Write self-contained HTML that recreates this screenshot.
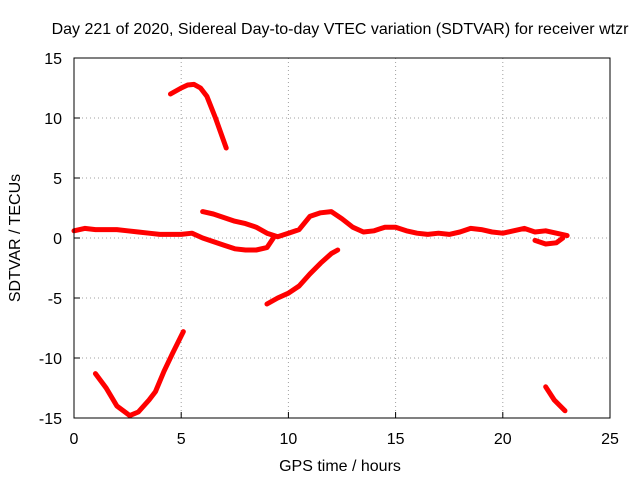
<!DOCTYPE html>
<html><head><meta charset="utf-8"><style>
body{margin:0;background:#fff}
svg text{font-family:"Liberation Sans",sans-serif;font-size:16px;fill:#000}
</style></head><body>
<svg id="chart" width="640" height="480" viewBox="0 0 640 480" xmlns="http://www.w3.org/2000/svg">
<rect width="640" height="480" fill="#fff"/>
<text x="340" y="34" text-anchor="middle">Day 221 of 2020, Sidereal Day-to-day VTEC variation (SDTVAR) for receiver wtzr</text>
<g id="grid"></g>
<g id="series"></g>
<rect x="74" y="58" width="536" height="360" fill="none" stroke="#000" stroke-width="1"/>
<g id="ticks"></g>
<text x="340" y="471" text-anchor="middle">GPS time / hours</text>
<text transform="translate(20,238) rotate(-90)" text-anchor="middle">SDTVAR / TECUs</text>
</svg>
<script>
const xTicks=[0,5,10,15,20,25];
const yTicks=[-15,-10,-5,0,5,10,15];
const segMainA=[[0,0.6],[0.5,0.8],[1,0.7],[2,0.7],[2.5,0.6],[3,0.5],[3.5,0.4],[4,0.3],[5,0.3],[5.5,0.4],[6,0.0],[6.5,-0.3],[7,-0.6],[7.5,-0.9],[8,-1.0],[8.5,-1.0],[9,-0.8],[9.3,0]];
const segMainB=[[6,2.2],[6.5,2.0],[7,1.7],[7.5,1.4],[8,1.2],[8.5,0.9],[9,0.4],[9.5,0.1],[10,0.4],[10.5,0.7],[11,1.8],[11.5,2.1],[12,2.2],[12.5,1.6],[13,0.9],[13.5,0.5],[14,0.6],[14.5,0.9],[15,0.9],[15.5,0.6],[16,0.4],[16.5,0.3],[17,0.4],[17.5,0.3],[18,0.5],[18.5,0.8],[19,0.7],[19.5,0.5],[20,0.4],[20.5,0.6],[21,0.8],[21.5,0.5],[22,0.6],[22.5,0.4],[23,0.2]];
const segDip=[[21.5,-0.2],[22,-0.5],[22.5,-0.4],[22.8,0]];
const segHigh=[[4.5,12.0],[5,12.5],[5.3,12.75],[5.6,12.8],[5.9,12.5],[6.2,11.8],[6.6,10.0],[7.1,7.5]];
const segMid=[[9,-5.5],[9.5,-5.0],[10,-4.6],[10.5,-4.0],[11,-3.0],[11.5,-2.1],[12,-1.3],[12.3,-1.0]];
const segLow=[[1,-11.3],[1.5,-12.5],[2,-14.0],[2.6,-14.8],[3,-14.5],[3.5,-13.5],[3.8,-12.8],[4.2,-11.1],[4.6,-9.6],[5.1,-7.8]];
const segEnd=[[22,-12.4],[22.4,-13.5],[22.9,-14.4]];
const allSegs=[segMainA,segMainB,segDip,segHigh,segMid,segLow,segEnd];
const NS="http://www.w3.org/2000/svg";
const X=v=>74+v*536/25, Y=v=>238-v*12;
const grid=document.getElementById('grid'),tk=document.getElementById('ticks'),ser=document.getElementById('series');
function mk(t,a,p){const e=document.createElementNS(NS,t);for(const k in a)e.setAttribute(k,a[k]);p.appendChild(e);return e;}
xTicks.forEach(v=>{
  if(v>0&&v<25){const g=mk('line',{x1:X(v),x2:X(v),y1:58,y2:418,stroke:'#a0a0a0','stroke-dasharray':'1,3'},grid);
  
  }
  const t=mk('text',{x:X(v),y:444,'text-anchor':'middle'},tk);t.textContent=v;
  
  
  mk('line',{x1:X(v),x2:X(v),y1:418,y2:412,stroke:'#000'},tk);
});
yTicks.forEach(v=>{
  if(v>-15&&v<15){const g=mk('line',{x1:74,x2:610,y1:Y(v),y2:Y(v),stroke:'#a0a0a0','stroke-dasharray':'1,3'},grid);
  
  }
  const t=mk('text',{x:62,y:Y(v)+6,'text-anchor':'end'},tk);t.textContent=v;
  
  
  mk('line',{x1:74,x2:80,y1:Y(v),y2:Y(v),stroke:'#000'},tk);
});
allSegs.forEach(s=>{
  const p=mk('polyline',{points:s.map(d=>X(d[0])+','+Y(d[1])).join(' '),fill:'none',stroke:'#f00','stroke-width':5,'stroke-linejoin':'round','stroke-linecap':'round'},ser);
  
  
});
</script>
</body></html>
